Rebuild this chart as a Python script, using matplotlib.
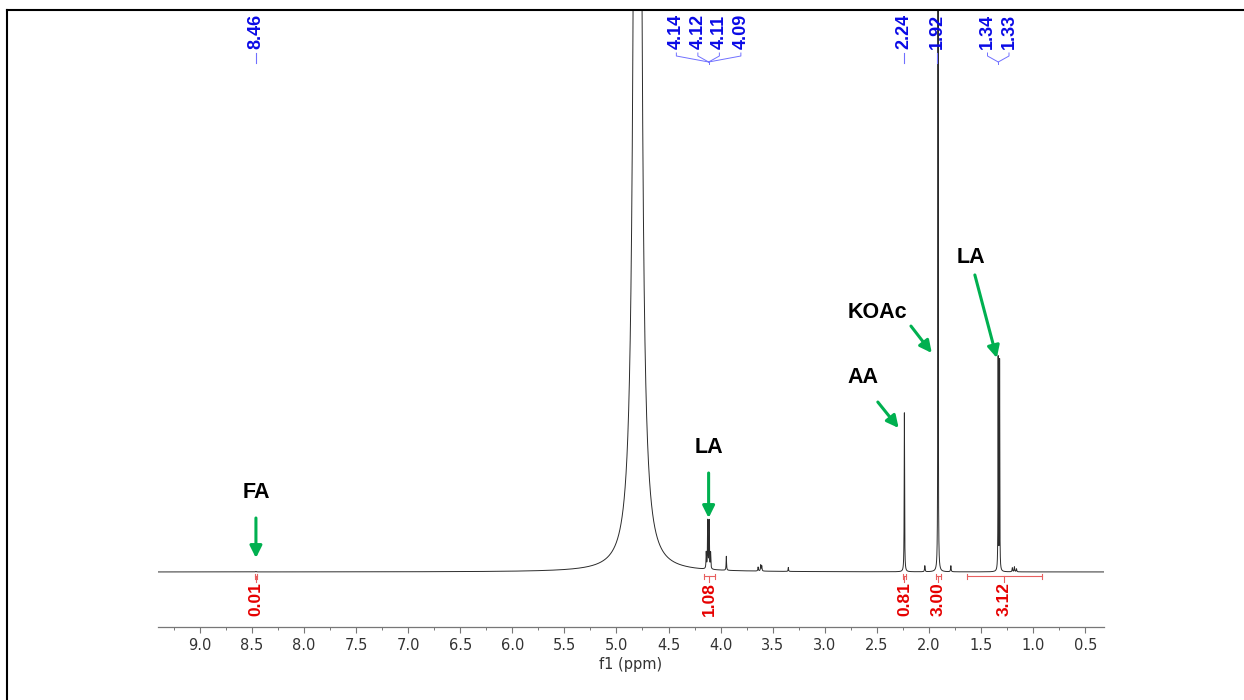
import numpy as np
import matplotlib.pyplot as plt
from matplotlib.lines import Line2D
from matplotlib.ticker import MultipleLocator, FormatStrFormatter
from matplotlib.transforms import blended_transform_factory

# peak list (ppm, height above baseline, half width)
peak_shift = [4.797, 4.138, 4.124, 4.110, 4.096, 3.945, 3.640, 3.615, 3.605, 3.350,
              2.236, 2.040, 1.913, 1.790, 1.336, 1.322, 1.200, 1.180, 1.160, 8.460]
peak_height = [3812, 16, 48, 48, 16, 14, 4, 6, 5, 4,
               159, 6, 1500, 6, 213, 210, 4, 5, 3, 0.5]
peak_hwhm = [0.018, 0.0025, 0.0025, 0.0025, 0.0025, 0.0025, 0.003, 0.003, 0.003, 0.0025,
             0.0022, 0.003, 0.0012, 0.003, 0.0018, 0.0018, 0.003, 0.003, 0.003, 0.003]

# labelled shifts at the top (groups)
shift_groups = [[8.46], [4.14, 4.12, 4.11, 4.09], [2.24], [1.92], [1.34, 1.33]]

# integrals
integ_ranges = [(8.47, 8.45), (4.158, 4.056), (2.25, 2.22), (1.935, 1.885), (1.637, 0.916)]
integ_values = [0.01, 1.08, 0.81, 3.00, 3.12]

# compound annotations: name, target ppm, target height
comp_names = ['FA', 'LA', 'AA', 'KOAc', 'LA']
comp_ppm = [8.46, 4.115, 2.291, 1.973, 1.349]
comp_y = [14, 54, 144, 219, 214]

W, H = 1244, 700
fig = plt.figure(figsize=(W / 100, H / 100), dpi=100)
ax = fig.add_axes([158 / W, (H - 627) / H, (1104 - 158) / W, 617 / H])

ppm = np.linspace(9.40, 0.32, 80000)
spec = np.zeros_like(ppm)
for c, h, g in zip(peak_shift, peak_height, peak_hwhm):
    spec += h * g**2 / ((ppm - c)**2 + g**2)

ax.plot(ppm, spec, color='#2b2b2b', lw=0.7)
ax.set_xlim(9.40, 0.32)
ax.set_ylim(-55, 562)

for s in ['left', 'right', 'top']:
    ax.spines[s].set_visible(False)
ax.spines['bottom'].set_color('#777777')
ax.spines['bottom'].set_linewidth(0.9)
ax.set_yticks([])
ax.xaxis.set_major_locator(MultipleLocator(0.5))
ax.xaxis.set_minor_locator(MultipleLocator(0.25))
ax.xaxis.set_major_formatter(FormatStrFormatter('%.1f'))
ax.tick_params(axis='x', which='major', length=4, width=0.8, color='#777777',
               labelsize=10.5, labelcolor='#333333', pad=4)
ax.tick_params(axis='x', which='minor', length=2.5, width=0.7, color='#777777')
ax.set_xlabel('f1 (ppm)', fontsize=10.5, color='#333333', labelpad=3)


def fy(py):
    return (627 - py) / 617


trans = blended_transform_factory(ax.transData, ax.transAxes)
ppm_per_px = (9.40 - 0.32) / 946
blue = '#0a0ae6'
for grp in shift_groups:
    xc = np.mean(grp)
    n = len(grp)
    spacing = 21.5 * ppm_per_px
    xs = [xc + (n - 1) / 2 * spacing - i * spacing for i in range(n)]
    for x, v in zip(xs, grp):
        ax.text(x, fy(49), f'{v:.2f}', rotation=90, ha='center', va='bottom',
                transform=trans, color=blue, fontsize=13, fontweight='bold',
                family='Liberation Sans')
        if n > 1:
            ax.plot([x, x, xc], [fy(53), fy(56), fy(62)], transform=trans,
                    color='#7070ff', lw=0.7)
    if n > 1:
        ax.plot([xc, xc], [fy(62), fy(64)], transform=trans, color='#7070ff', lw=0.7)
    else:
        ax.plot([xc, xc], [fy(53), fy(63)], transform=trans, color='#7070ff', lw=0.8)

red = '#e60000'
for (a, b), v in zip(integ_ranges, integ_values):
    xc = (a + b) / 2
    ax.plot([a, b], [-4, -4], color='#e86060', lw=0.8)
    ax.plot([a, a], [-6.5, -1.5], color='#e86060', lw=0.8)
    ax.plot([b, b], [-6.5, -1.5], color='#e86060', lw=0.8)
    ax.plot([xc, xc], [-4, -10], color='#e86060', lw=0.8)
    ax.text(xc, -10.5, f'{v:.2f}', rotation=90, ha='center', va='top', color=red,
            fontsize=12.5, fontweight='bold', family='Liberation Sans')

green = '#00b050'
tail_off = [(0, 28.8), (0, 32.4), (-15, 18.7), (-15, 19.4), (-15.8, 59.8)]
text_off = [(0, 47.5), (0, 51), (-26, 36.7), (-38.9, 28.8), (-18.7, 72.7)]
for name, x, y, to, lo in zip(comp_names, comp_ppm, comp_y, tail_off, text_off):
    ax.annotate('', xy=(x, y), xytext=to, textcoords='offset points',
                arrowprops=dict(arrowstyle='-|>,head_length=0.4,head_width=0.2',
                                mutation_scale=18, lw=2.2, color=green,
                                shrinkA=0, shrinkB=0))
    ax.annotate(name, xy=(x, y), xytext=lo, textcoords='offset points',
                ha='center', va='center', fontsize=15.5, fontweight='bold',
                family='Liberation Sans', color='black')

# page frame
fig.add_artist(Line2D([7 / W, 1], [1 - 10 / H, 1 - 10 / H], color='black', lw=1.5,
                      transform=fig.transFigure))
fig.add_artist(Line2D([7 / W, 7 / W], [0, 1 - 10 / H], color='black', lw=1.5,
                      transform=fig.transFigure))

fig.savefig('out.png', dpi=100)
